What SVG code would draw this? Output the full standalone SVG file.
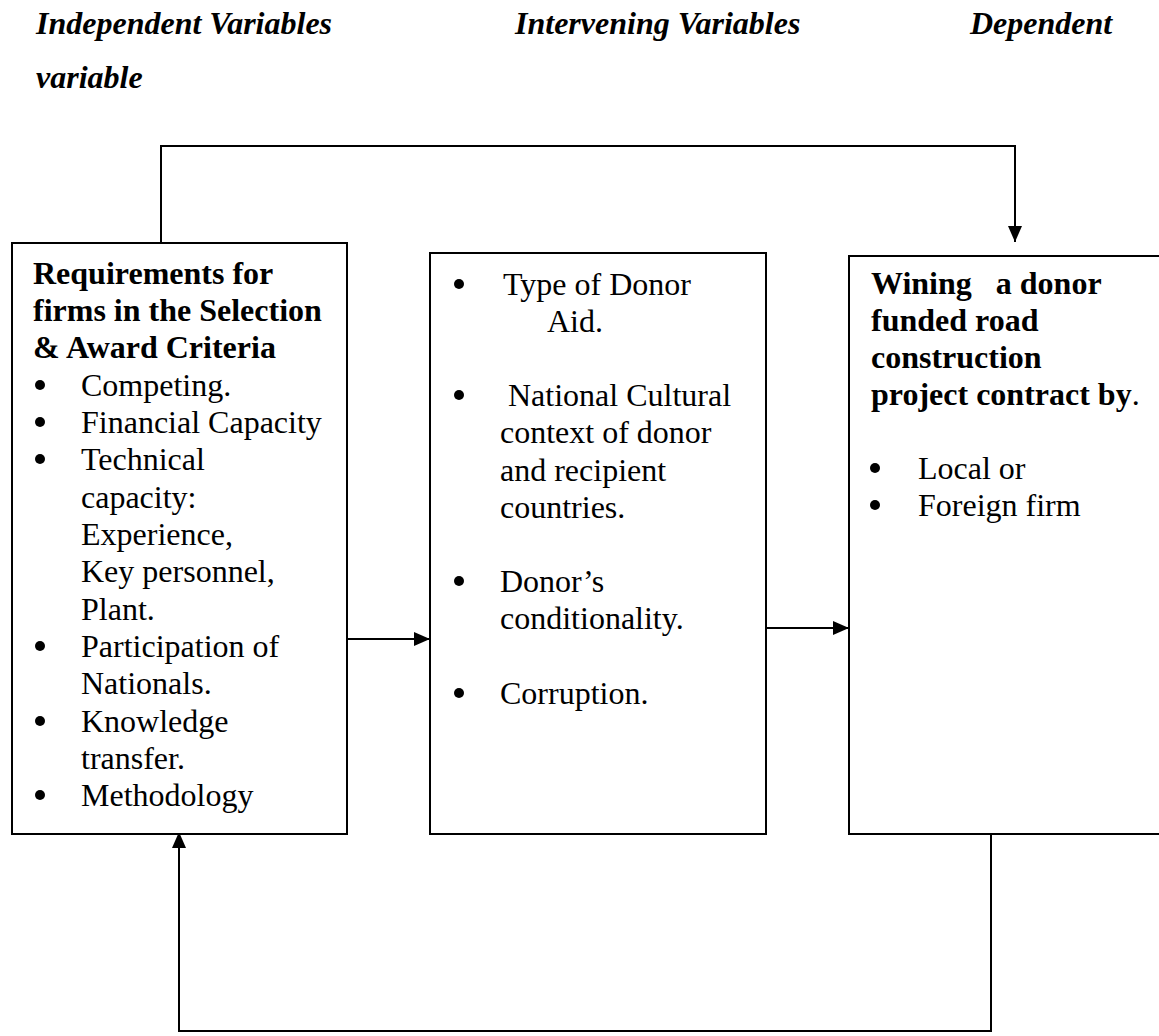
<svg xmlns="http://www.w3.org/2000/svg" width="1159" height="1036" viewBox="0 0 1159 1036">
<style>
text{font-family:"Liberation Serif","Times New Roman",serif;font-size:32px;fill:#000;}
.h{font-weight:bold;font-style:italic;}
.b{font-weight:bold;}
.box{fill:#fff;stroke:#000;stroke-width:2;}
.con{fill:none;stroke:#000;stroke-width:2;}
</style>
<defs>
<marker id="ah" markerUnits="userSpaceOnUse" markerWidth="16" markerHeight="14" refX="16" refY="7" orient="auto">
<path d="M0,0 L16,7 L0,14 z" fill="#000"/>
</marker>
</defs>
<g id="headers">
<text class="h" x="36" y="34">Independent Variables</text>
<text class="h" x="515" y="34">Intervening Variables</text>
<text class="h" x="970" y="34">Dependent</text>
<text class="h" x="36" y="88">variable</text>
</g>
<g id="connectors">
<polyline class="con" points="161,243 161,146 1015,146 1015,242" marker-end="url(#ah)"/>
<line class="con" x1="347" y1="639" x2="430" y2="639" marker-end="url(#ah)"/>
<line class="con" x1="766" y1="628" x2="849" y2="628" marker-end="url(#ah)"/>
<polyline class="con" points="991,834 991,1031 179,1031 179,832" marker-end="url(#ah)"/>
</g>
<g id="independent">
<rect class="box" x="12" y="243" width="335" height="591"/>
<text class="b" x="33" y="284">Requirements for</text>
<text class="b" x="33" y="321">firms in the Selection</text>
<text class="b" x="33" y="358">&amp; Award Criteria</text>
<g>
<circle cx="40" cy="385" r="5"/><text x="81" y="396">Competing.</text>
<circle cx="40" cy="422" r="5"/><text x="81" y="433">Financial Capacity</text>
<circle cx="40" cy="459" r="5"/><text x="81" y="470">Technical</text>
<text x="81" y="508">capacity:</text>
<text x="81" y="545">Experience,</text>
<text x="81" y="582">Key personnel,</text>
<text x="81" y="620">Plant.</text>
<circle cx="40" cy="646" r="5"/><text x="81" y="657">Participation of</text>
<text x="81" y="694">Nationals.</text>
<circle cx="40" cy="721" r="5"/><text x="81" y="732">Knowledge</text>
<text x="81" y="769">transfer.</text>
<circle cx="40" cy="795" r="5"/><text x="81" y="806">Methodology</text>
</g>
</g>
<g id="intervening">
<rect class="box" x="430" y="253" width="336" height="581"/>
<circle cx="459" cy="284" r="5"/><text x="503" y="295">Type of Donor</text>
<text x="547" y="332">Aid.</text>
<circle cx="459" cy="395" r="5"/><text x="500" y="406" xml:space="preserve"> National Cultural</text>
<text x="500" y="443">context of donor</text>
<text x="500" y="481">and recipient</text>
<text x="500" y="518">countries.</text>
<circle cx="459" cy="581" r="5"/><text x="500" y="592">Donor’s</text>
<text x="500" y="629">conditionality.</text>
<circle cx="459" cy="693" r="5"/><text x="500" y="704">Corruption.</text>
</g>
<g id="dependent">
<rect class="box" x="849" y="256" width="320" height="578"/>
<text class="b" x="871" y="294" xml:space="preserve">Wining   a donor</text>
<text class="b" x="871" y="331">funded road</text>
<text class="b" x="871" y="368">construction</text>
<text x="871" y="405"><tspan class="b">project contract by</tspan>.</text>
<circle cx="875" cy="468" r="5"/><text x="918" y="479">Local or</text>
<circle cx="875" cy="505" r="5"/><text x="918" y="516">Foreign firm</text>
</g>
</svg>
